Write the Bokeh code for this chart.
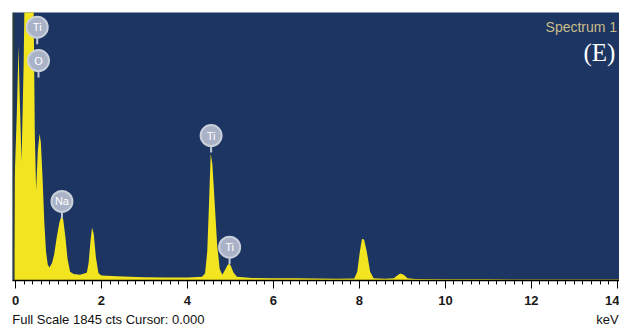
from bokeh.plotting import figure
from bokeh.models import (Range1d, FixedTicker, Label, Span, ColumnDataSource,
                          LinearAxis, AllLabels)
from bokeh.embed import file_html
from bokeh.resources import INLINE

# Spectrum (energy in keV, counts)
energy = [-0.06, -0.04, -0.02, 0.03, 0.07, 0.10, 0.14, 0.19, 0.24, 0.30, 0.38, 0.42, 0.45, 0.48,
          0.52, 0.56, 0.59, 0.63, 0.67, 0.71, 0.75, 0.79, 0.85, 0.90, 0.96, 1.02, 1.07, 1.11,
          1.16, 1.21, 1.27, 1.35, 1.50, 1.62, 1.66, 1.70, 1.74, 1.78, 1.82, 1.87, 1.93, 2.00,
          2.5, 3.0, 3.5, 4.0, 4.34, 4.41, 4.46, 4.50, 4.54, 4.58, 4.63, 4.69, 4.75, 4.81,
          4.87, 4.93, 4.97, 5.01, 5.07, 5.15, 5.5, 6.0, 6.5, 7.0, 7.5, 7.88, 7.95, 8.01,
          8.06, 8.11, 8.17, 8.25, 8.33, 8.6, 8.80, 8.88, 8.95, 9.03, 9.12, 9.3, 10.0, 11.0,
          12.0, 13.0, 14.3]
counts = [0, 0, 700, 1150, 1620, 1250, 820, 1500, 2600, 3200, 2800, 1900, 1000, 620,
          900, 1010, 950, 700, 400, 200, 110, 90, 120, 180, 300, 400, 445, 420,
          300, 150, 60, 45, 40, 50, 55, 120, 260, 365, 320, 160, 50, 35,
          28, 22, 20, 20, 25, 50, 200, 520, 875, 800, 550, 250, 80, 40,
          70, 105, 117, 100, 55, 25, 18, 16, 15, 14, 12, 14, 60, 200,
          287, 280, 200, 60, 15, 12, 15, 35, 48, 40, 15, 10, 8, 8,
          7, 7, 7]

# Element markers (energy keV, counts)
label_text = ["Ti", "O", "Na", "Ti", "Ti"]
label_x = [0.505, 0.535, 1.08, 4.55, 4.98]
label_y = [1744, 1514, 544, 998, 229]

major_ticks = [0, 2, 4, 6, 8, 10, 12, 14]
minor_ticks = [round(i * 0.2, 1) for i in range(0, 72)]

# bottom status line (texts and their anchor energies)
status_text = {2.16: "Full Scale 1845 cts Cursor: 0.000", 13.77: "keV"}

BLUE = "#1d3562"
YELLOW = "#f2e41e"
CPP = 1845 / 268.0  # counts per pixel

p = figure(width=619, height=329, output_backend="svg", toolbar_location=None,
           x_range=Range1d(-0.07, 14.05), y_range=Range1d(0, 1845),
           y_axis_location=None, min_border_left=12, min_border_right=0,
           min_border_top=12, min_border_bottom=49)
p.background_fill_color = BLUE
p.border_fill_color = "white"
p.outline_line_color = None
p.grid.visible = False

p.varea(x=energy, y1=[0] * len(energy), y2=counts, fill_color=YELLOW)
p.add_layout(Span(location=-0.045, dimension="height", line_color="#2e3c3c", line_width=2))

ax = p.xaxis[0]
ax.ticker = FixedTicker(ticks=major_ticks, minor_ticks=minor_ticks)
ax.axis_line_color = "black"
ax.axis_line_width = 1.5
ax.major_tick_line_color = "black"
ax.minor_tick_line_color = "black"
ax.major_tick_out = 8
ax.major_tick_in = 0
ax.minor_tick_out = 4
ax.minor_tick_in = 0
ax.major_label_standoff = 7
ax.major_label_text_font = "Liberation Sans"
ax.major_label_text_font_size = "13px"
ax.major_label_text_font_style = "bold"
ax.major_label_text_color = "#1a1a1a"

# second row below the axis: status texts
ax2 = LinearAxis(ticker=FixedTicker(ticks=list(status_text.keys()), minor_ticks=[]),
                 major_label_overrides=status_text, major_label_policy=AllLabels())
ax2.axis_line_color = None
ax2.major_tick_line_color = None
ax2.minor_tick_line_color = None
ax2.major_tick_out = 0
ax2.major_tick_in = 0
ax2.major_label_standoff = 4
ax2.major_label_text_font = "Liberation Sans"
ax2.major_label_text_font_size = "13px"
ax2.major_label_text_color = "#111111"
p.add_layout(ax2, "below")

# markers: stems then circles
src = ColumnDataSource(dict(x=label_x, y=label_y, y0=[v - 17 * CPP for v in label_y], t=label_text))
p.segment(x0="x", y0="y", x1="x", y1="y0", source=src, line_color="#c4cad6", line_width=2)
p.scatter(x="x", y="y", source=src, size=21, fill_color="#a9b2c6",
          line_color="#c9cfdb", line_width=2)
p.text(x="x", y="y", text="t", source=src, text_color="white", text_font_size="11px",
       text_align="center", text_baseline="middle")

p.add_layout(Label(x=12.33, y=1748, text="Spectrum 1", text_font="Liberation Sans",
                   text_font_size="14px", text_color="#c9bd88", text_baseline="middle"))
p.add_layout(Label(x=13.21, y=1570, text="(E)", text_font="Liberation Serif",
                   text_font_size="25px", text_color="white", text_baseline="middle"))

open("out.html", "w").write(file_html(p, INLINE))
